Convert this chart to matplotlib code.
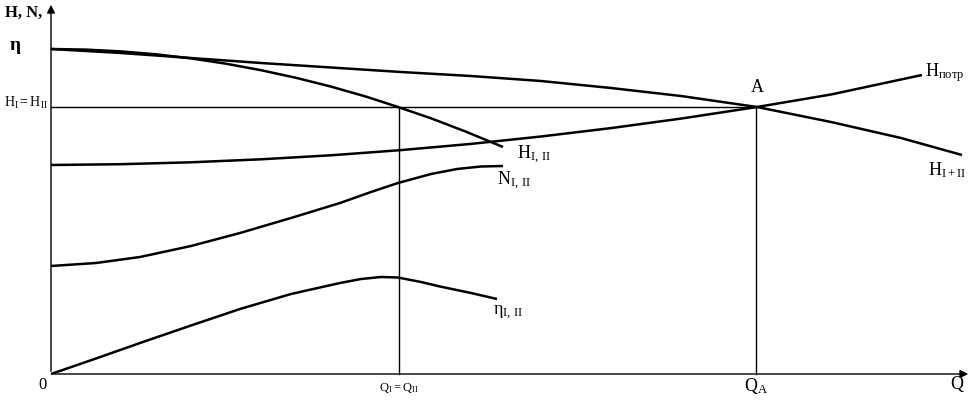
import matplotlib
matplotlib.use("Agg")
import matplotlib.pyplot as plt

plt.rcParams['font.family'] = ['Liberation Serif', 'DejaVu Serif']
plt.rcParams['mathtext.fontset'] = 'custom'
plt.rcParams['mathtext.rm'] = 'Liberation Serif'
plt.rcParams['mathtext.it'] = 'Liberation Serif'

# Curves (Q, value) in arbitrary units
H_single_q = [0, 35, 70, 105, 140, 175, 210, 245, 280, 315, 347, 380, 415, 452]
H_single_v = [325, 324.4, 322.6, 319.7, 315.6, 310.3, 303.8, 296.2, 287.4, 277.4, 267, 255.7, 242.3, 227]

H_sum_q = [0, 70, 140, 210, 280, 350, 420, 490, 560, 630, 706, 780, 850, 911]
H_sum_v = [325, 321, 316, 311, 306.5, 302, 298, 293, 286, 278, 267, 252, 236, 219]

H_need_q = [0, 70, 140, 210, 280, 350, 420, 490, 560, 630, 706, 780, 871]
H_need_v = [209, 209.8, 211.7, 214.7, 218.7, 223.9, 230.1, 237.5, 245.9, 255.4, 267, 279.5, 299]

N_q = [0, 45, 89, 140, 189, 240, 289, 320, 347, 380, 406, 430, 452]
N_v = [108, 111, 117, 128, 141, 156, 171, 182, 191, 200, 205, 207.5, 208]

eta_q = [0, 45, 89, 140, 189, 240, 289, 310, 330, 347, 370, 389, 420, 446]
eta_v = [0, 15.5, 31, 48.5, 65, 80, 91, 95, 97, 96.5, 92, 87.5, 81, 75]

Q_eq = 348      # Q_I = Q_II
Q_A = 705       # operating point A
H_eq = 267      # H_I = H_II

fig = plt.figure(figsize=(9.73, 4.01), dpi=100)
ax = fig.add_axes([0, 0, 1, 1])
ax.set_xlim(-51, 922)
ax.set_ylim(-27, 374)
ax.axis('off')

lw = 1.8
style = dict(color='black', lw=lw, solid_joinstyle='round', solid_capstyle='butt')
ax.plot(H_single_q, H_single_v, **style)
ax.plot(H_sum_q, H_sum_v, **style)
ax.plot(H_need_q, H_need_v, **style)
ax.plot(N_q, N_v, **style)
ax.plot(eta_q, eta_v, **style)

# reference lines
ax.plot([0, Q_A], [H_eq, H_eq], color='black', lw=1)
ax.plot([Q_eq, Q_eq], [0, H_eq], color='black', lw=1)
ax.plot([Q_A, Q_A], [0, H_eq], color='black', lw=1)

# axes with arrows
ax.annotate('', xy=(920, 0), xytext=(0, 0),
            arrowprops=dict(arrowstyle='-|>', color='black', lw=1, mutation_scale=12))
ax.annotate('', xy=(0, 372), xytext=(0, 0),
            arrowprops=dict(arrowstyle='-|>', color='black', lw=1, mutation_scale=12))

fs = 13
ax.text(-46, 361, 'H, N,', fontsize=12, fontweight='bold', va='center', ha='left')
ax.text(-41, 329, 'η', fontsize=14, fontweight='bold', va='center', ha='left')
ax.text(-47, 271, r'$\mathrm{H_I = H_{II}}$', fontsize=10, va='center', ha='left')
ax.text(-13, -11, '0', fontsize=12, va='center', ha='left')

ax.text(466, 219, r'$\mathrm{H_{I,\,II}}$', fontsize=fs, va='center', ha='left')
ax.text(446, 193, r'$\mathrm{N_{I,\,II}}$', fontsize=fs, va='center', ha='left')
ax.text(442, 61, r'$\mathrm{\eta_{I,\,II}}$', fontsize=fs, va='center', ha='left')
ax.text(874, 301, r'$\mathrm{H_{потр}}$', fontsize=fs, va='center', ha='left')
ax.text(877, 204, r'$\mathrm{H_{I+II}}$', fontsize=fs, va='center', ha='left')
ax.text(706, 286, 'A', fontsize=fs, va='center', ha='center')
ax.text(Q_eq, -14, r'$\mathrm{Q_I = Q_{II}}$', fontsize=9, va='center', ha='center')
ax.text(Q_A, -12, r'$\mathrm{Q_A}$', fontsize=fs, va='center', ha='center')
ax.text(906, -11, 'Q', fontsize=fs, va='center', ha='center')

fig.savefig('out.png', dpi=100, facecolor='white')
